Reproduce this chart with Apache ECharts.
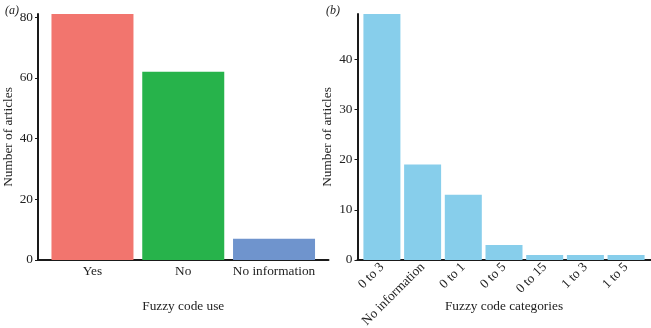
<!DOCTYPE html>
<html>
<head>
<meta charset="utf-8">
<script src="https://cdn.jsdelivr.net/npm/echarts@6/dist/echarts.min.js"></script>
<style>
  html, body { margin: 0; padding: 0; background: #fff; }
  #main { width: 651px; height: 328px; }
</style>
</head>
<body>
<div id="main"></div>
<script>
// 面板 a 数据
const useCategories = ['Yes', 'No', 'No information'];
const useCounts = [81, 62, 7];
const useColors = ['#F2756E', '#27B34B', '#6F94CD'];

// 面板 b 数据
const codeCategories = ['0 to 3', 'No information', '0 to 1', '0 to 5', '0 to 15', '1 to 3', '1 to 5'];
const codeCounts = [49, 19, 13, 3, 1, 1, 1];

const yTicksA = [0, 20, 40, 60, 80];
const yTicksB = [0, 10, 20, 30, 40];

const serif = 'Liberation Serif';
const axisColor = '#1a1a1a';

var myChart = echarts.init(document.getElementById('main'));

function xAxisOf(gridIndex, cats, name, rotate) {
    const idx = cats.map((c, i) => i + 1);
    return {
        type: 'value',
        gridIndex: gridIndex,
        min: 0.4,
        max: cats.length + 0.6,
        name: name,
        nameLocation: 'middle',
        nameGap: 40,
        nameMoveOverlap: false,
        nameTextStyle: { fontFamily: serif, fontSize: 13.3, color: '#222' },
        splitLine: { show: false },
        axisLine: { lineStyle: { color: axisColor, width: 2 } },
        axisTick: { show: false, customValues: idx },
        axisLabel: {
            customValues: idx,
            margin: 5,
            rotate: rotate,
            fontFamily: serif,
            fontSize: 13.3,
            color: '#222',
            formatter: v => cats[Math.round(v) - 1]
        }
    };
}

function yAxisOf(gridIndex, max, ticks) {
    return {
        type: 'value',
        gridIndex: gridIndex,
        min: 0,
        max: max,
        name: 'Number of articles',
        nameLocation: 'middle',
        nameGap: 23,
        nameMoveOverlap: false,
        nameTextStyle: { fontFamily: serif, fontSize: 13.3, color: '#222' },
        splitLine: { show: false },
        axisLine: { show: true, lineStyle: { color: axisColor, width: 2 } },
        axisTick: { show: true, length: 3, customValues: ticks, lineStyle: { color: axisColor } },
        axisLabel: { customValues: ticks, margin: 5, fontFamily: serif, fontSize: 13.3, color: '#222' }
    };
}

const option = {
    animation: false,
    title: [
        { text: '(a)', left: 0, top: 0, textStyle: { fontFamily: serif, fontStyle: 'italic', fontWeight: 'normal', fontSize: 12, color: '#222' } },
        { text: '(b)', left: 321, top: 0, textStyle: { fontFamily: serif, fontStyle: 'italic', fontWeight: 'normal', fontSize: 12, color: '#222' } }
    ],
    grid: [
        { left: 38, top: 14, width: 290.5, height: 246, outerBoundsMode: 'none' },
        { left: 357.5, top: 14, width: 293, height: 246, outerBoundsMode: 'none' }
    ],
    xAxis: [
        xAxisOf(0, useCategories, 'Fuzzy code use', 0),
        xAxisOf(1, codeCategories, 'Fuzzy code categories', 45)
    ],
    yAxis: [
        yAxisOf(0, useCounts[0], yTicksA),
        yAxisOf(1, codeCounts[0], yTicksB)
    ],
    series: [
        {
            type: 'bar',
            xAxisIndex: 0,
            yAxisIndex: 0,
            barWidth: 82,
            data: useCounts.map((v, i) => ({ value: [i + 1, v], itemStyle: { color: useColors[i] } }))
        },
        {
            type: 'bar',
            xAxisIndex: 1,
            yAxisIndex: 1,
            barWidth: 37,
            itemStyle: { color: '#87CEEB' },
            data: codeCounts.map((v, i) => [i + 1, v])
        }
    ]
};

myChart.setOption(option);
window.addEventListener('resize', myChart.resize);
</script>
</body>
</html>
